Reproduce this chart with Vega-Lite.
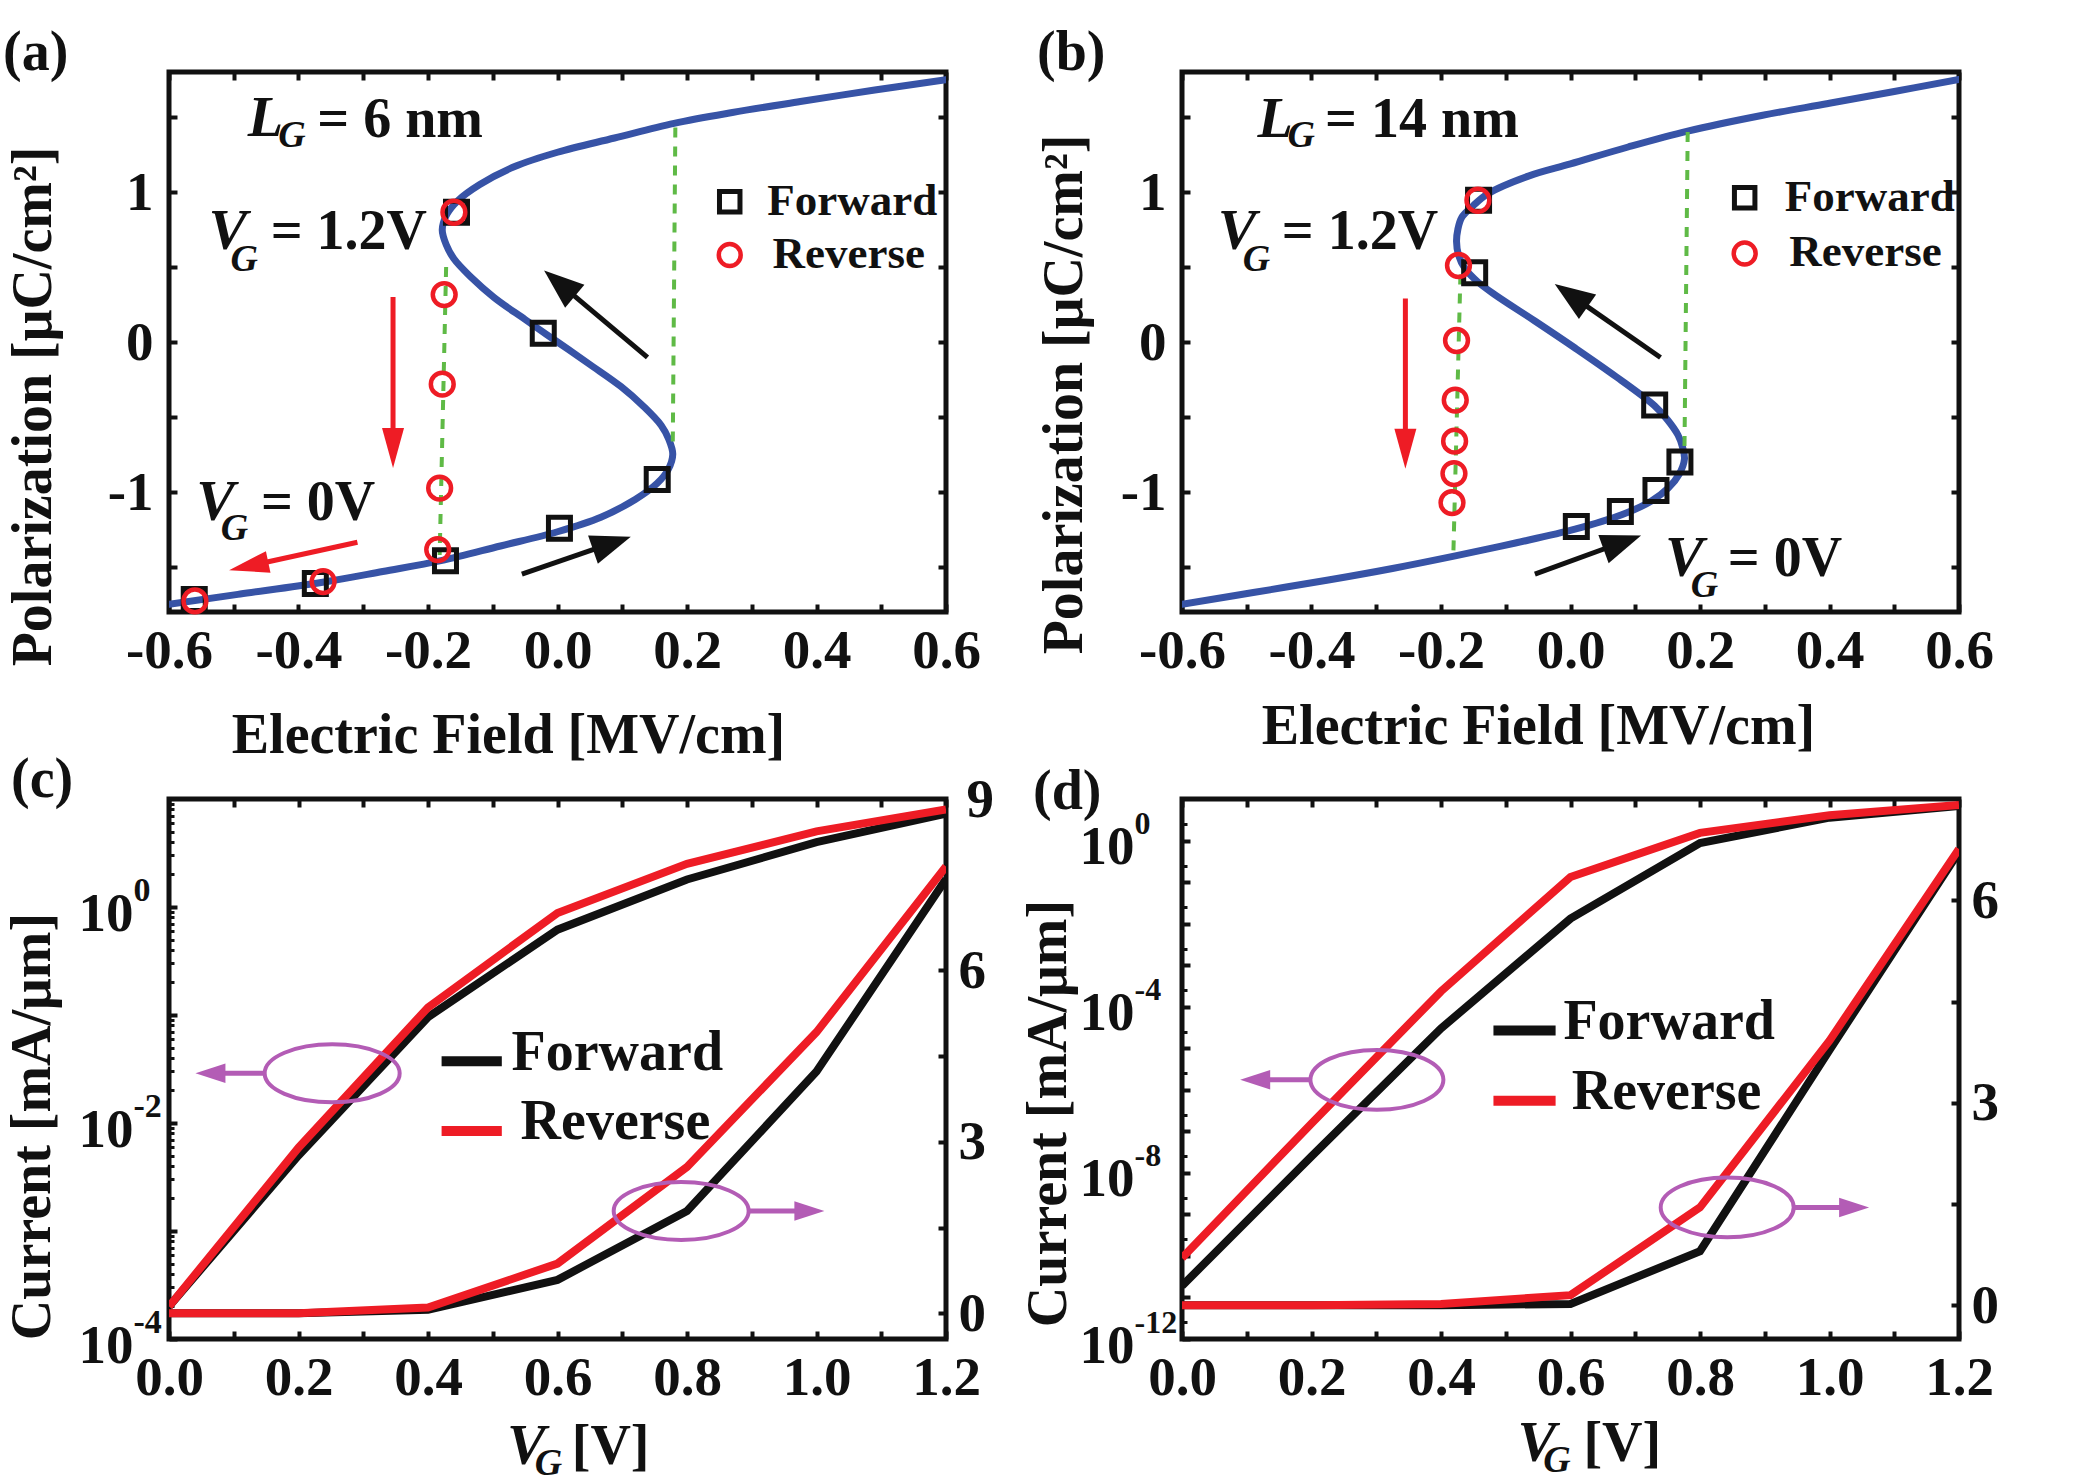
{
"$schema":"https://vega.github.io/schema/vega-lite/v6.json",
"padding":{"left":0,"top":22,"right":5,"bottom":5},
"background":"white",
"config":{
 "font":"Liberation Serif",
 "view":{"stroke":"#111111","strokeWidth":5},
 "axis":{"labelFont":"Liberation Serif","labelFontSize":55,"labelFontWeight":"bold","labelColor":"#111111","titleFont":"Liberation Serif","titleFontSize":56,"titleFontWeight":"bold","titleColor":"#111111","tickColor":"#111111","tickWidth":4,"tickSize":-8,"domain":false,"grid":false,"labelFlush":false,"labelOverlap":false,"labelBound":false},
 "axisBottom":{"labelPadding":20},
 "axisLeft":{"labelPadding":24},
 "axisRight":{"labelPadding":20},
 "title":{"font":"Liberation Serif","fontSize":56,"fontWeight":"bold","color":"#111111","anchor":"start","frame":"group","offset":0},
 "text":{"font":"Liberation Serif","fontWeight":"bold","color":"#111111"}
},
"datasets":{
 "curveA":[{"idx":0,"E":-0.684,"P":-1.8},{"idx":1,"E":-0.6,"P":-1.748},{"idx":2,"E":-0.49,"P":-1.68},{"idx":3,"E":-0.365,"P":-1.603},{"idx":4,"E":-0.27,"P":-1.53},{"idx":5,"E":-0.18,"P":-1.458},{"idx":6,"E":-0.088,"P":-1.36},{"idx":7,"E":0.0,"P":-1.265},{"idx":8,"E":0.067,"P":-1.168},{"idx":9,"E":0.12,"P":-1.05},{"idx":10,"E":0.154,"P":-0.942},{"idx":11,"E":0.171,"P":-0.85},{"idx":12,"E":0.178,"P":-0.748},{"idx":13,"E":0.172,"P":-0.65},{"idx":14,"E":0.16,"P":-0.555},{"idx":15,"E":0.133,"P":-0.43},{"idx":16,"E":0.098,"P":-0.297},{"idx":17,"E":0.05,"P":-0.15},{"idx":18,"E":0.0,"P":0.0},{"idx":19,"E":-0.05,"P":0.15},{"idx":20,"E":-0.098,"P":0.297},{"idx":21,"E":-0.133,"P":0.43},{"idx":22,"E":-0.16,"P":0.555},{"idx":23,"E":-0.172,"P":0.65},{"idx":24,"E":-0.178,"P":0.748},{"idx":25,"E":-0.171,"P":0.85},{"idx":26,"E":-0.154,"P":0.942},{"idx":27,"E":-0.12,"P":1.05},{"idx":28,"E":-0.067,"P":1.168},{"idx":29,"E":0.0,"P":1.265},{"idx":30,"E":0.088,"P":1.36},{"idx":31,"E":0.18,"P":1.458},{"idx":32,"E":0.27,"P":1.53},{"idx":33,"E":0.375,"P":1.603},{"idx":34,"E":0.49,"P":1.68},{"idx":35,"E":0.6,"P":1.748},{"idx":36,"E":0.684,"P":1.8}],
 "fwdA":[{"E":-0.561,"P":-1.716},{"E":-0.374,"P":-1.61},{"E":-0.173,"P":-1.458},{"E":0.003,"P":-1.242},{"E":0.154,"P":-0.916},{"E":-0.022,"P":0.058},{"E":-0.156,"P":0.865}],
 "revA":[{"E":-0.16,"P":0.865},{"E":-0.175,"P":0.316},{"E":-0.178,"P":-0.281},{"E":-0.182,"P":-0.974},{"E":-0.185,"P":-1.384},{"E":-0.362,"P":-1.597},{"E":-0.56,"P":-1.726}],
 "greenA":[{"E":0.182,"P":1.43,"E2":0.178,"P2":-0.7},{"E":-0.172,"P":0.5,"E2":-0.182,"P2":-1.42}],
 "legSymA":[{"E":0.266,"P":0.935,"sweep":"Forward"},{"E":0.266,"P":0.58,"sweep":"Reverse"}],
 "legTextA":[{"E":0.324,"P":0.94,"text":"Forward"},{"E":0.332,"P":0.59,"text":"Reverse"}],
 "arrowsA":[{"E":0.139,"P":-0.103,"E2":0.003,"P2":0.391,"heading":310,"sweep":"Forward"},{"E":-0.055,"P":-1.548,"E2":0.084,"P2":-1.341,"heading":71,"sweep":"Forward"},{"E":-0.254,"P":0.3,"E2":-0.254,"P2":-0.706,"heading":180,"sweep":"Reverse"},{"E":-0.309,"P":-1.335,"E2":-0.477,"P2":-1.494,"heading":258,"sweep":"Reverse"}],
 "annoA":[{"E":-0.451,"P":1.484,"text":"L","part":"base"},{"E":-0.41,"P":1.374,"text":"G","part":"sub"},{"E":-0.371,"P":1.48,"text":"= 6 nm","part":"rest"},{"E":-0.509,"P":0.735,"text":"V","part":"base"},{"E":-0.484,"P":0.55,"text":"G","part":"sub"},{"E":-0.443,"P":0.735,"text":"= 1.2V","part":"rest"},{"E":-0.528,"P":-1.071,"text":"V","part":"base"},{"E":-0.499,"P":-1.248,"text":"G","part":"sub"},{"E":-0.458,"P":-1.071,"text":"= 0V","part":"rest"}],
 "curveB":[{"idx":0,"E":-0.68,"P":-1.8},{"idx":1,"E":-0.6,"P":-1.748},{"idx":2,"E":-0.49,"P":-1.67},{"idx":3,"E":-0.374,"P":-1.587},{"idx":4,"E":-0.275,"P":-1.51},{"idx":5,"E":-0.178,"P":-1.426},{"idx":6,"E":-0.085,"P":-1.34},{"idx":7,"E":0.007,"P":-1.248},{"idx":8,"E":0.079,"P":-1.152},{"idx":9,"E":0.125,"P":-1.06},{"idx":10,"E":0.151,"P":-0.974},{"idx":11,"E":0.168,"P":-0.88},{"idx":12,"E":0.176,"P":-0.78},{"idx":13,"E":0.173,"P":-0.7},{"idx":14,"E":0.166,"P":-0.62},{"idx":15,"E":0.15,"P":-0.52},{"idx":16,"E":0.13,"P":-0.426},{"idx":17,"E":0.07,"P":-0.23},{"idx":18,"E":0.007,"P":-0.04},{"idx":19,"E":-0.055,"P":0.14},{"idx":20,"E":-0.117,"P":0.316},{"idx":21,"E":-0.143,"P":0.4},{"idx":22,"E":-0.163,"P":0.49},{"idx":23,"E":-0.173,"P":0.58},{"idx":24,"E":-0.176,"P":0.67},{"idx":25,"E":-0.174,"P":0.75},{"idx":26,"E":-0.168,"P":0.83},{"idx":27,"E":-0.15,"P":0.91},{"idx":28,"E":-0.127,"P":0.99},{"idx":29,"E":-0.065,"P":1.106},{"idx":30,"E":0.0,"P":1.187},{"idx":31,"E":0.089,"P":1.3},{"idx":32,"E":0.181,"P":1.406},{"idx":33,"E":0.295,"P":1.51},{"idx":34,"E":0.398,"P":1.59},{"idx":35,"E":0.5,"P":1.67},{"idx":36,"E":0.6,"P":1.75},{"idx":37,"E":0.67,"P":1.8}],
 "fwdB":[{"E":-0.142,"P":0.945},{"E":-0.148,"P":0.461},{"E":0.13,"P":-0.42},{"E":0.169,"P":-0.8},{"E":0.132,"P":-0.99},{"E":0.077,"P":-1.13},{"E":0.009,"P":-1.23}],
 "revB":[{"E":-0.143,"P":0.945},{"E":-0.173,"P":0.51},{"E":-0.176,"P":0.01},{"E":-0.178,"P":-0.387},{"E":-0.179,"P":-0.661},{"E":-0.18,"P":-0.877},{"E":-0.183,"P":-1.071}],
 "greenB":[{"E":0.181,"P":1.4,"E2":0.176,"P2":-0.72},{"E":-0.17,"P":0.45,"E2":-0.181,"P2":-1.43}],
 "legSymB":[{"E":0.269,"P":0.961,"sweep":"Forward"},{"E":0.269,"P":0.59,"sweep":"Reverse"}],
 "legTextB":[{"E":0.331,"P":0.97,"text":"Forward"},{"E":0.338,"P":0.6,"text":"Reverse"}],
 "arrowsB":[{"E":0.139,"P":-0.103,"E2":0.001,"P2":0.311,"heading":305,"sweep":"Forward"},{"E":-0.055,"P":-1.548,"E2":0.08,"P2":-1.335,"heading":70,"sweep":"Forward"},{"E":-0.255,"P":0.29,"E2":-0.255,"P2":-0.712,"heading":180,"sweep":"Reverse"}],
 "annoB":[{"E":-0.456,"P":1.48,"text":"L","part":"base"},{"E":-0.416,"P":1.375,"text":"G","part":"sub"},{"E":-0.379,"P":1.48,"text":"= 14 nm","part":"rest"},{"E":-0.515,"P":0.735,"text":"V","part":"base"},{"E":-0.485,"P":0.55,"text":"G","part":"sub"},{"E":-0.446,"P":0.735,"text":"= 1.2V","part":"rest"},{"E":0.176,"P":-1.448,"text":"V","part":"base"},{"E":0.207,"P":-1.626,"text":"G","part":"sub"},{"E":0.243,"P":-1.448,"text":"= 0V","part":"rest"}],
 "logC":[{"V":0,"I":0.0002,"sweep":"Forward"},{"V":0.2,"I":0.005,"sweep":"Forward"},{"V":0.4,"I":0.0955,"sweep":"Forward"},{"V":0.6,"I":0.617,"sweep":"Forward"},{"V":0.8,"I":1.8,"sweep":"Forward"},{"V":1.0,"I":3.98,"sweep":"Forward"},{"V":1.2,"I":7.3,"sweep":"Forward"},{"V":0,"I":0.0002,"sweep":"Reverse"},{"V":0.2,"I":0.0059,"sweep":"Reverse"},{"V":0.4,"I":0.1175,"sweep":"Reverse"},{"V":0.6,"I":0.881,"sweep":"Reverse"},{"V":0.8,"I":2.51,"sweep":"Reverse"},{"V":1.0,"I":5.01,"sweep":"Reverse"},{"V":1.2,"I":8.0,"sweep":"Reverse"}],
 "linC":[{"V":0,"J":0,"sweep":"Forward"},{"V":0.2,"J":0,"sweep":"Forward"},{"V":0.4,"J":0.06,"sweep":"Forward"},{"V":0.6,"J":0.585,"sweep":"Forward"},{"V":0.8,"J":1.79,"sweep":"Forward"},{"V":1.0,"J":4.23,"sweep":"Forward"},{"V":1.2,"J":7.6,"sweep":"Forward"},{"V":0,"J":0,"sweep":"Reverse"},{"V":0.2,"J":0,"sweep":"Reverse"},{"V":0.4,"J":0.1,"sweep":"Reverse"},{"V":0.6,"J":0.87,"sweep":"Reverse"},{"V":0.8,"J":2.56,"sweep":"Reverse"},{"V":1.0,"J":4.92,"sweep":"Reverse"},{"V":1.2,"J":7.82,"sweep":"Reverse"}],
 "ellC":[{"V":0.252,"J":4.2},{"V":0.791,"J":1.79}],
 "arrowsC":[{"V":0.149,"J":4.2,"V2":0.064,"heading":270},{"V":0.894,"J":1.79,"V2":0.989,"heading":90}],
 "legLineC":[{"V":0.421,"V2":0.514,"J":4.41,"sweep":"Forward"},{"V":0.421,"V2":0.514,"J":3.19,"sweep":"Reverse"}],
 "legTextC":[{"V":0.529,"J":4.55,"text":"Forward"},{"V":0.543,"J":3.34,"text":"Reverse"}],
 "xtC":[{"V":0.552,"J":-2.34,"text":"V","part":"base"},{"V":0.586,"J":-2.64,"text":"G","part":"sub"},{"V":0.622,"J":-2.34,"text":"[V]","part":"rest"}],
 "logD":[{"V":0,"I":1.9e-11,"sweep":"Forward"},{"V":0.2,"I":2.5e-8,"sweep":"Forward"},{"V":0.4,"I":3.0e-5,"sweep":"Forward"},{"V":0.6,"I":0.0132,"sweep":"Forward"},{"V":0.8,"I":0.871,"sweep":"Forward"},{"V":1.0,"I":3.55,"sweep":"Forward"},{"V":1.2,"I":6.76,"sweep":"Forward"},{"V":0,"I":8.9e-11,"sweep":"Reverse"},{"V":0.2,"I":1.55e-7,"sweep":"Reverse"},{"V":0.4,"I":2.34e-4,"sweep":"Reverse"},{"V":0.6,"I":0.133,"sweep":"Reverse"},{"V":0.8,"I":1.53,"sweep":"Reverse"},{"V":1.0,"I":4.07,"sweep":"Reverse"},{"V":1.2,"I":7.16,"sweep":"Reverse"}],
 "linD":[{"V":0,"J":0,"sweep":"Forward"},{"V":0.2,"J":0,"sweep":"Forward"},{"V":0.4,"J":0,"sweep":"Forward"},{"V":0.6,"J":0.02,"sweep":"Forward"},{"V":0.8,"J":0.8,"sweep":"Forward"},{"V":1.0,"J":3.78,"sweep":"Forward"},{"V":1.2,"J":6.72,"sweep":"Forward"},{"V":0,"J":0,"sweep":"Reverse"},{"V":0.2,"J":0,"sweep":"Reverse"},{"V":0.4,"J":0.02,"sweep":"Reverse"},{"V":0.6,"J":0.15,"sweep":"Reverse"},{"V":0.8,"J":1.45,"sweep":"Reverse"},{"V":1.0,"J":3.92,"sweep":"Reverse"},{"V":1.2,"J":6.76,"sweep":"Reverse"}],
 "ellD":[{"V":0.301,"J":3.34},{"V":0.842,"J":1.45}],
 "arrowsD":[{"V":0.198,"J":3.34,"V2":0.113,"heading":270},{"V":0.945,"J":1.45,"V2":1.038,"heading":90}],
 "legLineD":[{"V":0.481,"V2":0.577,"J":4.07,"sweep":"Forward"},{"V":0.481,"V2":0.577,"J":3.03,"sweep":"Reverse"}],
 "legTextD":[{"V":0.589,"J":4.19,"text":"Forward"},{"V":0.602,"J":3.16,"text":"Reverse"}],
 "xtD":[{"V":0.548,"J":-2.06,"text":"V","part":"base"},{"V":0.579,"J":-2.31,"text":"G","part":"sub"},{"V":0.62,"J":-2.06,"text":"[V]","part":"rest"}]
},
"columns":2,
"spacing":{"row":187,"column":236},
"bounds":"flush",
"concat":[
 {
  "width":777,"height":540,
  "title":{"text":"(a)","dx":-166,"dy":17},
  "resolve":{"axis":{"x":"independent","y":"independent"}},
  "layer":[
   {"data":{"name":"curveA"},"mark":{"type":"line","color":"#3753a6","strokeWidth":7,"interpolate":"catmull-rom","clip":true},
    "encoding":{
     "x":{"field":"E","type":"quantitative","scale":{"domain":[-0.6,0.6],"nice":false,"zero":false},
      "axis":{"orient":"bottom","values":[-0.6,-0.5,-0.4,-0.3,-0.2,-0.1,0,0.1,0.2,0.3,0.4,0.5,0.6],"labelExpr":"abs(round(datum.value*10)) % 2 == 0 ? replace(format(datum.value, '.1f'), '\u2212', '-') : ''","title":"Electric Field [MV/cm]","titleX":339,"titleY":123,"titleAlign":"center","titleBaseline":"middle"}},
     "y":{"field":"P","type":"quantitative","scale":{"domain":[-1.8,1.8],"nice":false,"zero":false},
      "axis":{"orient":"left","values":[-1.5,-1,-0.5,0,0.5,1,1.5],"labelExpr":"datum.value % 1 == 0 ? '' + datum.value : ''","title":"Polarization [μC/cm²]","titleX":-136,"titleY":334,"titleAlign":"center","titleBaseline":"middle","titleAngle":-90}},
     "order":{"field":"idx","type":"quantitative"}}},
   {"data":{"name":"curveA"},"mark":{"type":"point","opacity":0},
    "encoding":{
     "x":{"field":"E","type":"quantitative","scale":{"domain":[-0.6,0.6],"nice":false,"zero":false},"axis":{"orient":"top","values":[-0.6,-0.5,-0.4,-0.3,-0.2,-0.1,0,0.1,0.2,0.3,0.4,0.5,0.6],"labels":false,"title":null}},
     "y":{"field":"P","type":"quantitative","scale":{"domain":[-1.8,1.8],"nice":false,"zero":false},"axis":{"orient":"right","values":[-1.5,-1,-0.5,0,0.5,1,1.5],"labels":false,"title":null}}}},
   {"data":{"name":"greenA"},"mark":{"type":"rule","color":"#5fba46","strokeWidth":4,"strokeDash":[10,9]},
    "encoding":{"x":{"field":"E","type":"quantitative","axis":null},"y":{"field":"P","type":"quantitative","axis":null},"x2":{"field":"E2"},"y2":{"field":"P2"}}},
   {"data":{"name":"fwdA"},"mark":{"type":"point","shape":"square","filled":false,"color":"#111111","strokeWidth":5,"size":484,"opacity":1},
    "encoding":{"x":{"field":"E","type":"quantitative","axis":null},"y":{"field":"P","type":"quantitative","axis":null}}},
   {"data":{"name":"revA"},"mark":{"type":"point","shape":"circle","filled":false,"color":"#ee1c25","strokeWidth":4.5,"size":520,"opacity":1},
    "encoding":{"x":{"field":"E","type":"quantitative","axis":null},"y":{"field":"P","type":"quantitative","axis":null}}},
   {"data":{"name":"legSymA"},"transform":[{"filter":"datum.sweep == 'Forward'"}],"mark":{"type":"point","shape":"square","filled":false,"color":"#111111","strokeWidth":5,"size":420,"opacity":1},
    "encoding":{"x":{"field":"E","type":"quantitative","axis":null},"y":{"field":"P","type":"quantitative","axis":null}}},
   {"data":{"name":"legSymA"},"transform":[{"filter":"datum.sweep == 'Reverse'"}],"mark":{"type":"point","shape":"circle","filled":false,"color":"#ee1c25","strokeWidth":4.5,"size":480,"opacity":1},
    "encoding":{"x":{"field":"E","type":"quantitative","axis":null},"y":{"field":"P","type":"quantitative","axis":null}}},
   {"data":{"name":"legTextA"},"mark":{"type":"text","align":"left","baseline":"middle","fontSize":45},
    "encoding":{"x":{"field":"E","type":"quantitative","axis":null},"y":{"field":"P","type":"quantitative","axis":null},"text":{"field":"text"}}},
   {"data":{"name":"arrowsA"},"mark":{"type":"rule","strokeWidth":5},
    "encoding":{"x":{"field":"E","type":"quantitative","axis":null},"y":{"field":"P","type":"quantitative","axis":null},"x2":{"field":"E2"},"y2":{"field":"P2"},
     "color":{"field":"sweep","type":"nominal","scale":{"domain":["Forward","Reverse"],"range":["#111111","#ee1c25"]},"legend":null}}},
   {"data":{"name":"arrowsA"},"transform":[{"filter":"datum.sweep == 'Forward'"}],"mark":{"type":"point","shape":"M0,-1L0.75,1L-0.75,1Z","size":1600,"filled":true,"color":"#111111","opacity":1,"strokeWidth":0},
    "encoding":{"x":{"field":"E2","type":"quantitative","axis":null},"y":{"field":"P2","type":"quantitative","axis":null},"angle":{"field":"heading","type":"quantitative","scale":null}}},
   {"data":{"name":"arrowsA"},"transform":[{"filter":"datum.sweep == 'Reverse'"}],"mark":{"type":"point","shape":"M0,-1L0.55,1L-0.55,1Z","size":1600,"filled":true,"color":"#ee1c25","opacity":1,"strokeWidth":0},
    "encoding":{"x":{"field":"E2","type":"quantitative","axis":null},"y":{"field":"P2","type":"quantitative","axis":null},"angle":{"field":"heading","type":"quantitative","scale":null}}},
   {"data":{"name":"annoA"},"transform":[{"filter":"datum.part == 'base'"}],"mark":{"type":"text","align":"center","baseline":"middle","fontSize":58,"fontStyle":"italic"},
    "encoding":{"x":{"field":"E","type":"quantitative","axis":null},"y":{"field":"P","type":"quantitative","axis":null},"text":{"field":"text"}}},
   {"data":{"name":"annoA"},"transform":[{"filter":"datum.part == 'sub'"}],"mark":{"type":"text","align":"center","baseline":"middle","fontSize":38,"fontStyle":"italic"},
    "encoding":{"x":{"field":"E","type":"quantitative","axis":null},"y":{"field":"P","type":"quantitative","axis":null},"text":{"field":"text"}}},
   {"data":{"name":"annoA"},"transform":[{"filter":"datum.part == 'rest'"}],"mark":{"type":"text","align":"left","baseline":"middle","fontSize":56},
    "encoding":{"x":{"field":"E","type":"quantitative","axis":null},"y":{"field":"P","type":"quantitative","axis":null},"text":{"field":"text"}}}
  ]
 },
 {
  "width":777,"height":540,
  "title":{"text":"(b)","dx":-145,"dy":17},
  "resolve":{"axis":{"x":"independent","y":"independent"}},
  "layer":[
   {"data":{"name":"curveB"},"mark":{"type":"line","color":"#3753a6","strokeWidth":7,"interpolate":"catmull-rom","clip":true},
    "encoding":{
     "x":{"field":"E","type":"quantitative","scale":{"domain":[-0.6,0.6],"nice":false,"zero":false},
      "axis":{"orient":"bottom","values":[-0.6,-0.5,-0.4,-0.3,-0.2,-0.1,0,0.1,0.2,0.3,0.4,0.5,0.6],"labelExpr":"abs(round(datum.value*10)) % 2 == 0 ? replace(format(datum.value, '.1f'), '\u2212', '-') : ''","title":"Electric Field [MV/cm]","titleX":356,"titleY":114,"titleAlign":"center","titleBaseline":"middle"}},
     "y":{"field":"P","type":"quantitative","scale":{"domain":[-1.8,1.8],"nice":false,"zero":false},
      "axis":{"orient":"left","values":[-1.5,-1,-0.5,0,0.5,1,1.5],"labelExpr":"datum.value % 1 == 0 ? '' + datum.value : ''","title":"Polarization [μC/cm²]","titleX":-118,"titleY":322,"titleAlign":"center","titleBaseline":"middle","titleAngle":-90}},
     "order":{"field":"idx","type":"quantitative"}}},
   {"data":{"name":"curveB"},"mark":{"type":"point","opacity":0},
    "encoding":{
     "x":{"field":"E","type":"quantitative","scale":{"domain":[-0.6,0.6],"nice":false,"zero":false},"axis":{"orient":"top","values":[-0.6,-0.5,-0.4,-0.3,-0.2,-0.1,0,0.1,0.2,0.3,0.4,0.5,0.6],"labels":false,"title":null}},
     "y":{"field":"P","type":"quantitative","scale":{"domain":[-1.8,1.8],"nice":false,"zero":false},"axis":{"orient":"right","values":[-1.5,-1,-0.5,0,0.5,1,1.5],"labels":false,"title":null}}}},
   {"data":{"name":"greenB"},"mark":{"type":"rule","color":"#5fba46","strokeWidth":4,"strokeDash":[10,9]},
    "encoding":{"x":{"field":"E","type":"quantitative","axis":null},"y":{"field":"P","type":"quantitative","axis":null},"x2":{"field":"E2"},"y2":{"field":"P2"}}},
   {"data":{"name":"fwdB"},"mark":{"type":"point","shape":"square","filled":false,"color":"#111111","strokeWidth":5,"size":484,"opacity":1},
    "encoding":{"x":{"field":"E","type":"quantitative","axis":null},"y":{"field":"P","type":"quantitative","axis":null}}},
   {"data":{"name":"revB"},"mark":{"type":"point","shape":"circle","filled":false,"color":"#ee1c25","strokeWidth":4.5,"size":520,"opacity":1},
    "encoding":{"x":{"field":"E","type":"quantitative","axis":null},"y":{"field":"P","type":"quantitative","axis":null}}},
   {"data":{"name":"legSymB"},"transform":[{"filter":"datum.sweep == 'Forward'"}],"mark":{"type":"point","shape":"square","filled":false,"color":"#111111","strokeWidth":5,"size":420,"opacity":1},
    "encoding":{"x":{"field":"E","type":"quantitative","axis":null},"y":{"field":"P","type":"quantitative","axis":null}}},
   {"data":{"name":"legSymB"},"transform":[{"filter":"datum.sweep == 'Reverse'"}],"mark":{"type":"point","shape":"circle","filled":false,"color":"#ee1c25","strokeWidth":4.5,"size":480,"opacity":1},
    "encoding":{"x":{"field":"E","type":"quantitative","axis":null},"y":{"field":"P","type":"quantitative","axis":null}}},
   {"data":{"name":"legTextB"},"mark":{"type":"text","align":"left","baseline":"middle","fontSize":45},
    "encoding":{"x":{"field":"E","type":"quantitative","axis":null},"y":{"field":"P","type":"quantitative","axis":null},"text":{"field":"text"}}},
   {"data":{"name":"arrowsB"},"mark":{"type":"rule","strokeWidth":5},
    "encoding":{"x":{"field":"E","type":"quantitative","axis":null},"y":{"field":"P","type":"quantitative","axis":null},"x2":{"field":"E2"},"y2":{"field":"P2"},
     "color":{"field":"sweep","type":"nominal","scale":{"domain":["Forward","Reverse"],"range":["#111111","#ee1c25"]},"legend":null}}},
   {"data":{"name":"arrowsB"},"transform":[{"filter":"datum.sweep == 'Forward'"}],"mark":{"type":"point","shape":"M0,-1L0.75,1L-0.75,1Z","size":1600,"filled":true,"color":"#111111","opacity":1,"strokeWidth":0},
    "encoding":{"x":{"field":"E2","type":"quantitative","axis":null},"y":{"field":"P2","type":"quantitative","axis":null},"angle":{"field":"heading","type":"quantitative","scale":null}}},
   {"data":{"name":"arrowsB"},"transform":[{"filter":"datum.sweep == 'Reverse'"}],"mark":{"type":"point","shape":"M0,-1L0.55,1L-0.55,1Z","size":1600,"filled":true,"color":"#ee1c25","opacity":1,"strokeWidth":0},
    "encoding":{"x":{"field":"E2","type":"quantitative","axis":null},"y":{"field":"P2","type":"quantitative","axis":null},"angle":{"field":"heading","type":"quantitative","scale":null}}},
   {"data":{"name":"annoB"},"transform":[{"filter":"datum.part == 'base'"}],"mark":{"type":"text","align":"center","baseline":"middle","fontSize":58,"fontStyle":"italic"},
    "encoding":{"x":{"field":"E","type":"quantitative","axis":null},"y":{"field":"P","type":"quantitative","axis":null},"text":{"field":"text"}}},
   {"data":{"name":"annoB"},"transform":[{"filter":"datum.part == 'sub'"}],"mark":{"type":"text","align":"center","baseline":"middle","fontSize":38,"fontStyle":"italic"},
    "encoding":{"x":{"field":"E","type":"quantitative","axis":null},"y":{"field":"P","type":"quantitative","axis":null},"text":{"field":"text"}}},
   {"data":{"name":"annoB"},"transform":[{"filter":"datum.part == 'rest'"}],"mark":{"type":"text","align":"left","baseline":"middle","fontSize":56},
    "encoding":{"x":{"field":"E","type":"quantitative","axis":null},"y":{"field":"P","type":"quantitative","axis":null},"text":{"field":"text"}}}
  ]
 },
 {
  "width":777,"height":540,
  "title":{"text":"(c)","dx":-158,"dy":41},
  "resolve":{"scale":{"y":"independent"},"axis":{"x":"independent","y":"independent"}},
  "layer":[
   {"data":{"name":"logC"},"mark":{"type":"line","strokeWidth":8,"clip":true},
    "encoding":{
     "x":{"field":"V","type":"quantitative","scale":{"domain":[0,1.2],"nice":false,"zero":false},
      "axis":{"orient":"bottom","values":[0,0.1,0.2,0.3,0.4,0.5,0.6,0.7,0.8,0.9,1,1.1,1.2],"labelExpr":"round(datum.value*10) % 2 == 0 ? format(datum.value, '.1f') : ''","title":null}},
     "y":{"field":"I","type":"quantitative","scale":{"type":"log","domain":[0.0001,10],"nice":false},
      "axis":{"orient":"left","values":[0.0001,0.001,0.01,0.1,1],"labelPadding":44,"labelOffset":6,"labelExpr":"round(log(datum.value)/LN10) % 2 == 0 ? '10' : ''","title":"Current  [mA/μm]","titleX":-137,"titleY":327,"titleAlign":"center","titleBaseline":"middle","titleAngle":-90}},
     "color":{"field":"sweep","type":"nominal","scale":{"domain":["Forward","Reverse"],"range":["#111111","#ee1c25"]},"legend":null}}},
   {"data":{"name":"logC"},"mark":{"type":"line","opacity":0},
    "encoding":{
     "x":{"field":"V","type":"quantitative","scale":{"domain":[0,1.2],"nice":false,"zero":false},"axis":{"orient":"top","values":[0,0.1,0.2,0.3,0.4,0.5,0.6,0.7,0.8,0.9,1,1.1,1.2],"labels":false,"title":null}},
     "y":{"field":"I","type":"quantitative","scale":{"type":"log","domain":[0.0001,10],"nice":false},"axis":{"orient":"left","values":[0.0002,0.0003,0.0004,0.0005,0.0006,0.0007,0.0008,0.0009,0.002,0.003,0.004,0.005,0.006,0.007,0.008,0.009,0.02,0.03,0.04,0.05,0.06,0.07,0.08,0.09,0.2,0.3,0.4,0.5,0.6,0.7,0.8,0.9,2,3,4,5,6,7,8,9],"labels":false,"title":null,"tickSize":-5,"tickWidth":3}},
     "detail":{"field":"sweep"}}},
   {"data":{"name":"logC"},"mark":{"type":"line","opacity":0},
    "encoding":{
     "x":{"field":"V","type":"quantitative","axis":null},
     "y":{"field":"I","type":"quantitative","scale":{"type":"log","domain":[0.0001,10],"nice":false},"axis":{"orient":"left","values":[0.0001,0.01,1],"ticks":false,"labelAlign":"left","labelPadding":36,"labelFontSize":34,"labelOffset":-17,"labelExpr":"round(log(datum.value)/LN10) == 0 ? '0' : '-' + abs(round(log(datum.value)/LN10))","title":null}},
     "detail":{"field":"sweep"}}},
   {"data":{"name":"linC"},"mark":{"type":"line","strokeWidth":8,"clip":true},
    "encoding":{
     "x":{"field":"V","type":"quantitative","scale":{"domain":[0,1.2],"nice":false,"zero":false},"axis":null},
     "y":{"field":"J","type":"quantitative","scale":{"domain":[-0.45,9],"nice":false,"zero":false},
      "axis":{"orient":"right","values":[0,1.5,3,4.5,6,7.5],"labelExpr":"datum.value % 3 == 0 ? '' + datum.value : ''","title":null}},
     "color":{"field":"sweep","type":"nominal","scale":{"domain":["Forward","Reverse"],"range":["#111111","#ee1c25"]},"legend":null}}},
   {"data":{"name":"linC"},"mark":{"type":"line","opacity":0},
    "encoding":{
     "x":{"field":"V","type":"quantitative","axis":null},
     "y":{"field":"J","type":"quantitative","scale":{"domain":[-0.45,9],"nice":false,"zero":false},
      "axis":{"orient":"right","values":[9],"ticks":false,"labelExpr":"'9'","labelBaseline":"top","labelOffset":-26,"title":null}},
     "detail":{"field":"sweep"}}},
   {"data":{"name":"ellC"},"mark":{"type":"point","shape":"M-1,0C-1,-0.2375,-0.5523,-0.43,0,-0.43C0.5523,-0.43,1,-0.2375,1,0C1,0.2375,0.5523,0.43,0,0.43C-0.5523,0.43,-1,0.2375,-1,0Z","size":18225,"filled":false,"color":"#b35cb5","strokeWidth":4,"opacity":1},
    "encoding":{"x":{"field":"V","type":"quantitative","axis":null},"y":{"field":"J","type":"quantitative","scale":{"domain":[-0.45,9],"nice":false,"zero":false},"axis":null}}},
   {"data":{"name":"arrowsC"},"mark":{"type":"rule","color":"#b35cb5","strokeWidth":5},
    "encoding":{"x":{"field":"V","type":"quantitative","axis":null},"x2":{"field":"V2"},"y":{"field":"J","type":"quantitative","scale":{"domain":[-0.45,9],"nice":false,"zero":false},"axis":null}}},
   {"data":{"name":"arrowsC"},"mark":{"type":"point","shape":"M0,-1L0.65,1L-0.65,1Z","size":900,"filled":true,"color":"#b35cb5","opacity":1,"strokeWidth":0},
    "encoding":{"x":{"field":"V2","type":"quantitative","axis":null},"y":{"field":"J","type":"quantitative","scale":{"domain":[-0.45,9],"nice":false,"zero":false},"axis":null},"angle":{"field":"heading","type":"quantitative","scale":null}}},
   {"data":{"name":"legLineC"},"mark":{"type":"rule","strokeWidth":10},
    "encoding":{"x":{"field":"V","type":"quantitative","axis":null},"x2":{"field":"V2"},"y":{"field":"J","type":"quantitative","scale":{"domain":[-0.45,9],"nice":false,"zero":false},"axis":null},
     "color":{"field":"sweep","type":"nominal","scale":{"domain":["Forward","Reverse"],"range":["#111111","#ee1c25"]},"legend":null}}},
   {"data":{"name":"legTextC"},"mark":{"type":"text","align":"left","baseline":"middle","fontSize":56},
    "encoding":{"x":{"field":"V","type":"quantitative","axis":null},"y":{"field":"J","type":"quantitative","scale":{"domain":[-0.45,9],"nice":false,"zero":false},"axis":null},"text":{"field":"text"}}},
   {"data":{"name":"xtC"},"transform":[{"filter":"datum.part == 'base'"}],"mark":{"type":"text","align":"center","baseline":"middle","fontSize":58,"fontStyle":"italic"},
    "encoding":{"x":{"field":"V","type":"quantitative","axis":null},"y":{"field":"J","type":"quantitative","scale":{"domain":[-0.45,9],"nice":false,"zero":false},"axis":null},"text":{"field":"text"}}},
   {"data":{"name":"xtC"},"transform":[{"filter":"datum.part == 'sub'"}],"mark":{"type":"text","align":"center","baseline":"middle","fontSize":38,"fontStyle":"italic"},
    "encoding":{"x":{"field":"V","type":"quantitative","axis":null},"y":{"field":"J","type":"quantitative","scale":{"domain":[-0.45,9],"nice":false,"zero":false},"axis":null},"text":{"field":"text"}}},
   {"data":{"name":"xtC"},"transform":[{"filter":"datum.part == 'rest'"}],"mark":{"type":"text","align":"left","baseline":"middle","fontSize":56},
    "encoding":{"x":{"field":"V","type":"quantitative","axis":null},"y":{"field":"J","type":"quantitative","scale":{"domain":[-0.45,9],"nice":false,"zero":false},"axis":null},"text":{"field":"text"}}}
  ]
 },
 {
  "width":777,"height":540,
  "title":{"text":"(d)","dx":-149,"dy":28},
  "resolve":{"scale":{"y":"independent"},"axis":{"x":"independent","y":"independent"}},
  "layer":[
   {"data":{"name":"logD"},"mark":{"type":"line","strokeWidth":8,"clip":true},
    "encoding":{
     "x":{"field":"V","type":"quantitative","scale":{"domain":[0,1.2],"nice":false,"zero":false},
      "axis":{"orient":"bottom","values":[0,0.1,0.2,0.3,0.4,0.5,0.6,0.7,0.8,0.9,1,1.1,1.2],"labelExpr":"round(datum.value*10) % 2 == 0 ? format(datum.value, '.1f') : ''","title":null}},
     "y":{"field":"I","type":"quantitative","scale":{"type":"log","domain":[1e-12,10],"nice":false},
      "axis":{"orient":"left","values":[1e-12,1e-11,1e-10,1e-9,1e-8,1e-7,1e-6,1e-5,1e-4,1e-3,1e-2,1e-1,1],"labelPadding":56,"labelOffset":6,"labelExpr":"round(log(datum.value)/LN10) % 4 == 0 ? '10' : ''","title":"Current  [mA/μm]","titleX":-134,"titleY":314,"titleAlign":"center","titleBaseline":"middle","titleAngle":-90}},
     "color":{"field":"sweep","type":"nominal","scale":{"domain":["Forward","Reverse"],"range":["#111111","#ee1c25"]},"legend":null}}},
   {"data":{"name":"logD"},"mark":{"type":"line","opacity":0},
    "encoding":{
     "x":{"field":"V","type":"quantitative","scale":{"domain":[0,1.2],"nice":false,"zero":false},"axis":{"orient":"top","values":[0,0.1,0.2,0.3,0.4,0.5,0.6,0.7,0.8,0.9,1,1.1,1.2],"labels":false,"title":null}},
     "y":{"field":"I","type":"quantitative","scale":{"type":"log","domain":[1e-12,10],"nice":false},"axis":{"orient":"left","values":[2.5e-12,2.5e-11,2.5e-10,2.5e-9,2.5e-8,2.5e-7,2.5e-6,2.5e-5,2.5e-4,2.5e-3,2.5e-2,2.5e-1,2.5],"labels":false,"title":null,"tickSize":-5,"tickWidth":3}},
     "detail":{"field":"sweep"}}},
   {"data":{"name":"logD"},"mark":{"type":"line","opacity":0},
    "encoding":{
     "x":{"field":"V","type":"quantitative","axis":null},
     "y":{"field":"I","type":"quantitative","scale":{"type":"log","domain":[1e-12,10],"nice":false},"axis":{"orient":"left","values":[1e-12,1e-8,1e-4,1],"ticks":false,"labelAlign":"left","labelPadding":48,"labelFontSize":32,"labelOffset":-17,"labelExpr":"round(log(datum.value)/LN10) == 0 ? '0' : '-' + abs(round(log(datum.value)/LN10))","title":null}},
     "detail":{"field":"sweep"}}},
   {"data":{"name":"linD"},"mark":{"type":"line","strokeWidth":8,"clip":true},
    "encoding":{
     "x":{"field":"V","type":"quantitative","scale":{"domain":[0,1.2],"nice":false,"zero":false},"axis":null},
     "y":{"field":"J","type":"quantitative","scale":{"domain":[-0.5,7.5],"nice":false,"zero":false},
      "axis":{"orient":"right","values":[0,1.5,3,4.5,6],"labelExpr":"datum.value % 3 == 0 ? '' + datum.value : ''","title":null}},
     "color":{"field":"sweep","type":"nominal","scale":{"domain":["Forward","Reverse"],"range":["#111111","#ee1c25"]},"legend":null}}},
   {"data":{"name":"ellD"},"mark":{"type":"point","shape":"M-1,0C-1,-0.2485,-0.5523,-0.45,0,-0.45C0.5523,-0.45,1,-0.2485,1,0C1,0.2485,0.5523,0.45,0,0.45C-0.5523,0.45,-1,0.2485,-1,0Z","size":17689,"filled":false,"color":"#b35cb5","strokeWidth":4,"opacity":1},
    "encoding":{"x":{"field":"V","type":"quantitative","axis":null},"y":{"field":"J","type":"quantitative","scale":{"domain":[-0.5,7.5],"nice":false,"zero":false},"axis":null}}},
   {"data":{"name":"arrowsD"},"mark":{"type":"rule","color":"#b35cb5","strokeWidth":5},
    "encoding":{"x":{"field":"V","type":"quantitative","axis":null},"x2":{"field":"V2"},"y":{"field":"J","type":"quantitative","scale":{"domain":[-0.5,7.5],"nice":false,"zero":false},"axis":null}}},
   {"data":{"name":"arrowsD"},"mark":{"type":"point","shape":"M0,-1L0.65,1L-0.65,1Z","size":900,"filled":true,"color":"#b35cb5","opacity":1,"strokeWidth":0},
    "encoding":{"x":{"field":"V2","type":"quantitative","axis":null},"y":{"field":"J","type":"quantitative","scale":{"domain":[-0.5,7.5],"nice":false,"zero":false},"axis":null},"angle":{"field":"heading","type":"quantitative","scale":null}}},
   {"data":{"name":"legLineD"},"mark":{"type":"rule","strokeWidth":10},
    "encoding":{"x":{"field":"V","type":"quantitative","axis":null},"x2":{"field":"V2"},"y":{"field":"J","type":"quantitative","scale":{"domain":[-0.5,7.5],"nice":false,"zero":false},"axis":null},
     "color":{"field":"sweep","type":"nominal","scale":{"domain":["Forward","Reverse"],"range":["#111111","#ee1c25"]},"legend":null}}},
   {"data":{"name":"legTextD"},"mark":{"type":"text","align":"left","baseline":"middle","fontSize":56},
    "encoding":{"x":{"field":"V","type":"quantitative","axis":null},"y":{"field":"J","type":"quantitative","scale":{"domain":[-0.5,7.5],"nice":false,"zero":false},"axis":null},"text":{"field":"text"}}},
   {"data":{"name":"xtD"},"transform":[{"filter":"datum.part == 'base'"}],"mark":{"type":"text","align":"center","baseline":"middle","fontSize":58,"fontStyle":"italic"},
    "encoding":{"x":{"field":"V","type":"quantitative","axis":null},"y":{"field":"J","type":"quantitative","scale":{"domain":[-0.5,7.5],"nice":false,"zero":false},"axis":null},"text":{"field":"text"}}},
   {"data":{"name":"xtD"},"transform":[{"filter":"datum.part == 'sub'"}],"mark":{"type":"text","align":"center","baseline":"middle","fontSize":38,"fontStyle":"italic"},
    "encoding":{"x":{"field":"V","type":"quantitative","axis":null},"y":{"field":"J","type":"quantitative","scale":{"domain":[-0.5,7.5],"nice":false,"zero":false},"axis":null},"text":{"field":"text"}}},
   {"data":{"name":"xtD"},"transform":[{"filter":"datum.part == 'rest'"}],"mark":{"type":"text","align":"left","baseline":"middle","fontSize":56},
    "encoding":{"x":{"field":"V","type":"quantitative","axis":null},"y":{"field":"J","type":"quantitative","scale":{"domain":[-0.5,7.5],"nice":false,"zero":false},"axis":null},"text":{"field":"text"}}}
  ]
 }
]
}
